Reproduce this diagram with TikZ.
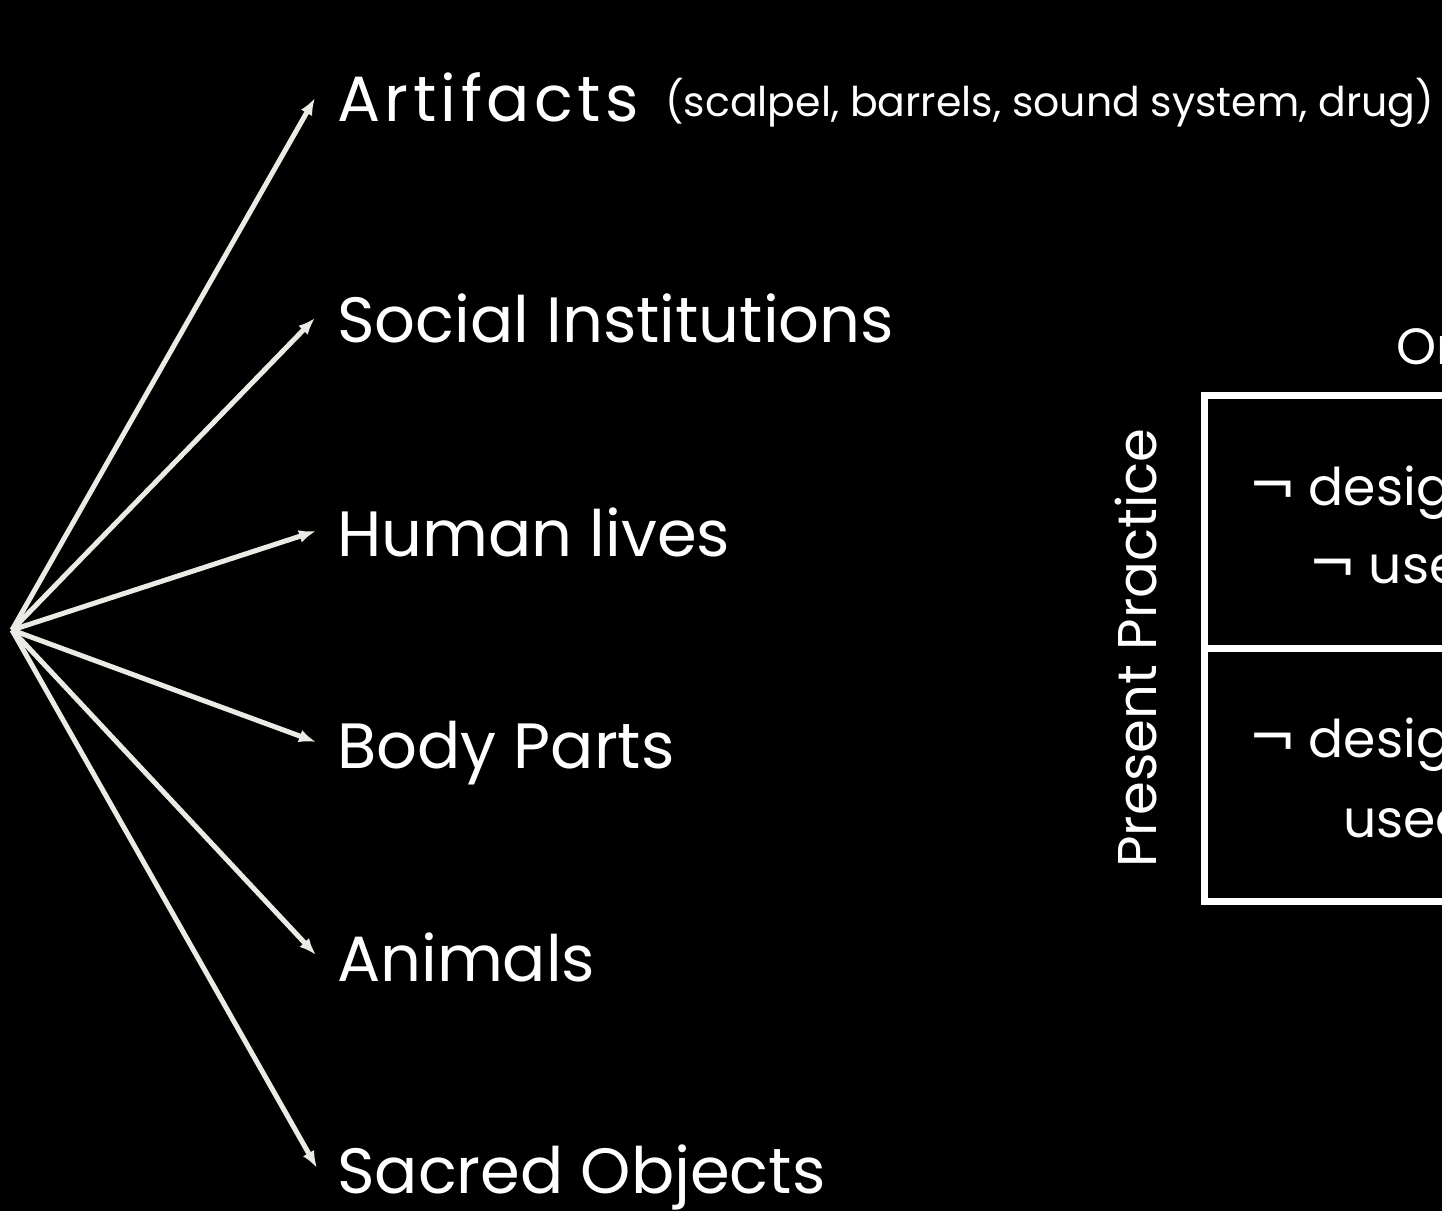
\documentclass[tikz,border=0pt]{standalone}
\usepackage{fontspec}
\setmainfont{Poppins}
\newfontfamily\negfont{DejaVu Sans}
\usetikzlibrary{arrows.meta}
\definecolor{arrowcol}{HTML}{ECEAE4}
\newcommand{\negsym}{{\negfont\fontsize{58}{62}\selectfont ¬}}
\tikzset{
  lbl/.style={anchor=base west, text=white, inner sep=0pt,
    font=\fontsize{64}{70}\selectfont},
  smalllbl/.style={anchor=base west, text=white, inner sep=0pt,
    font=\fontsize{41}{46}\selectfont},
  celltxt/.style={anchor=base west, text=white, inner sep=0pt,
    font=\fontsize{52}{60}\selectfont},
  fanarrow/.style={draw=arrowcol, line width=5pt,
    -{Latex[length=17pt,width=13pt]}},
  tableline/.style={draw=white, line width=7pt}
}
\begin{document}
\begin{tikzpicture}[x=1pt,y=-1pt]
\fill[black] (0,0) rectangle (1442,1211);
\useasboundingbox (0,0) rectangle (1442,1211);
\clip (0,0) rectangle (1442,1211);
% origin of fan
\coordinate (o) at (12,630);
% labels
\node[lbl] (art) at (337,121) {\addfontfeature{LetterSpace=7}Artifacts};
\node[smalllbl] (artx) at (665,116) {(scalpel, barrels, sound system, drug)};
\node[lbl] (soc) at (337,342) {Social Institutions};
\node[lbl] (hum) at (337,556) {Human lives};
\node[lbl] (bod) at (337,768) {Body Parts};
\node[lbl] (ani) at (337,981) {Animals};
\node[lbl] (sac) at (337,1193) {Sacred Objects};
% arrow tips
\coordinate (t1) at (315,98);
\coordinate (t2) at (315,318);
\coordinate (t3) at (316,531);
\coordinate (t4) at (316,742);
\coordinate (t5) at (316,955);
\coordinate (t6) at (317,1168);
\foreach \t in {t1,t2,t3,t4,t5,t6}{
  \draw[fanarrow] (o) -- (\t);
}
% table
\coordinate (tl) at (1204,395);
\coordinate (ml) at (1204,648);
\coordinate (bl) at (1204,901);
\coordinate (tr) at (1700,395);
\coordinate (mr) at (1700,648);
\coordinate (br) at (1700,901);
\draw[tableline] (tr) -- (tl) -- (bl) -- (br);
\draw[tableline] (ml) -- (mr);
\node[anchor=base, rotate=90, text=white, inner sep=0pt,
  font=\fontsize{54.5}{60}\selectfont] (pp) at (1156,648) {Present Practice};
\node[anchor=base west, text=white, inner sep=0pt,
  font=\fontsize{51}{60}\selectfont] (orig) at (1396,364) {Original Function};
\node[celltxt] (c1a) at (1248,505) {\negsym\hspace{12pt}designed};
\node[celltxt] (c1b) at (1308,583) {\negsym\hspace{12pt}used};
\node[celltxt] (c2a) at (1248,757) {\negsym\hspace{12pt}designed};
\node[celltxt] (c2b) at (1343,837) {used};
\end{tikzpicture}
\end{document}
